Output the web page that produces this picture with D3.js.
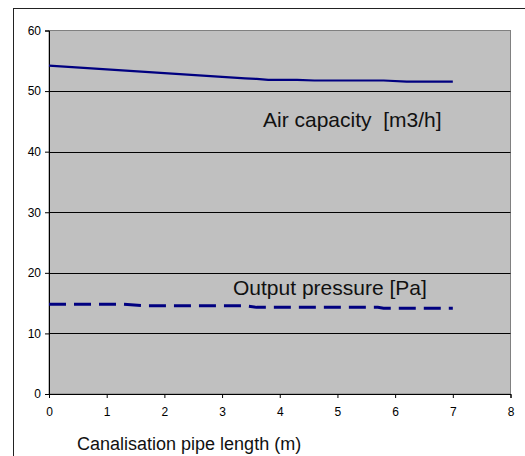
<!DOCTYPE html>
<html><head><meta charset="utf-8">
<script src="https://cdn.jsdelivr.net/npm/d3@7"></script>
<style>
html,body{margin:0;padding:0;background:#fff;}
svg{display:block;font-family:"Liberation Sans",Arial,sans-serif;}
</style></head>
<body>
<svg id="c" width="525" height="456"></svg>
<script>
const xTicks = [0,1,2,3,4,5,6,7,8];
const yTicks = [0,10,20,30,40,50,60];
const airX = [0, 3.4, 3.6, 3.8, 4.3, 4.6, 5.8, 6.2, 7];
const airY = [54.2, 52.1, 52.0, 51.85, 51.85, 51.75, 51.75, 51.55, 51.55];
const presX = [0, 1.3, 1.7, 3.4, 3.6, 5.7, 5.8, 7];
const presY = [14.8, 14.8, 14.55, 14.55, 14.3, 14.3, 14.15, 14.15];
const airLabel = "Air capacity  [m3/h]";
const presLabel = "Output pressure [Pa]";
const xTitle = "Canalisation pipe length (m)";

const svg = d3.select("#c");
const L = 49, R = 510.5, T = 30.5, B = 394;
const x = d3.scaleLinear().domain([0,8]).range([L,R]);
const y = d3.scaleLinear().domain([0,60]).range([B,T]);

// outer chart border
svg.append("rect").attr("x",13.5).attr("y",8.5).attr("width",530).attr("height",470)
  .attr("fill","#fff").attr("stroke","#222").attr("stroke-width",1);

// plot area
svg.append("rect").attr("x",L).attr("y",T).attr("width",R-L).attr("height",B-T)
  .attr("fill","#c0c0c0").attr("stroke","#808080").attr("stroke-width",1);

// gridlines
svg.append("g").selectAll("line").data(yTicks.filter(d=>d>0 && d<60)).join("line")
  .attr("x1",L).attr("x2",R).attr("y1",d=>Math.round(y(d))+0.5).attr("y2",d=>Math.round(y(d))+0.5)
  .attr("stroke","#000").attr("stroke-width",1);

// axes
const yAxis = d3.axisLeft(y).tickValues(yTicks).tickSize(4).tickPadding(4);
const gy = svg.append("g").attr("transform",`translate(${L},0)`).call(yAxis);
const xAxis = d3.axisBottom(x).tickValues(xTicks).tickSize(4).tickPadding(9);
const gx = svg.append("g").attr("transform",`translate(0,${B})`).call(xAxis);
[gx,gy].forEach(g=>{
  g.selectAll(".domain").attr("stroke","#000");
  g.selectAll(".tick line").attr("stroke","#000");
  g.selectAll("text").attr("font-size",12).attr("fill","#000")
    .attr("font-family","'Liberation Sans',Arial,sans-serif");
});

const line = d3.line().x(d=>x(d[0])).y(d=>y(d[1]));
svg.append("path").datum(airX.map((v,i)=>[v,airY[i]]))
  .attr("d",line).attr("fill","none").attr("stroke","#000080").attr("stroke-width",2.2);
svg.append("path").datum(presX.map((v,i)=>[v,presY[i]]))
  .attr("d",line).attr("fill","none").attr("stroke","#000080").attr("stroke-width",3)
  .attr("stroke-dasharray","17,8");

svg.append("text").attr("x",263).attr("y",127).attr("font-size",21).attr("fill","#111")
  .style("white-space","pre").attr("xml:space","preserve").text(airLabel);
svg.append("text").attr("x",233).attr("y",295).attr("font-size",21).attr("fill","#111")
  .text(presLabel);
svg.append("text").attr("x",77).attr("y",449.5).attr("font-size",18).attr("fill","#111")
  .text(xTitle);
</script>
</body></html>
